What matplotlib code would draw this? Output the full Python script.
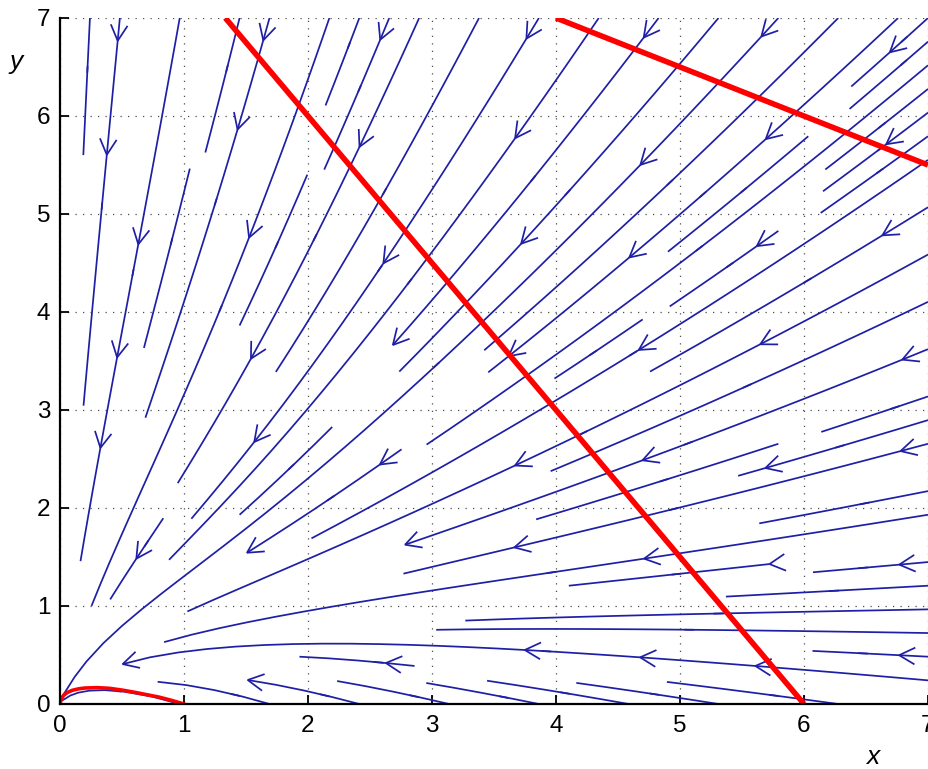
"""Phase portrait: streamlines of a planar field plus red reference curves."""

import numpy as np
import matplotlib

matplotlib.use("Agg")
import matplotlib.pyplot as plt  # noqa: E402

plt.rcParams["font.family"] = ["Liberation Sans", "DejaVu Sans"]

# red straight lines (end points)
line1_x = [4.0 / 3.0, 6.0]
line1_y = [7.0, 0.0]
line2_x = [4.0, 7.0]
line2_y = [7.0, 5.5]

# small red arch near the origin
curve_x = [0.0, 0.01, 0.03, 0.06, 0.10, 0.15, 0.20, 0.30, 0.40, 0.50, 0.60, 0.70, 0.80, 0.90, 1.0]
curve_y = [0.0, 0.05, 0.09, 0.118, 0.14, 0.155, 0.163, 0.167, 0.16, 0.142, 0.12, 0.095, 0.07, 0.037, 0.0]

ticks = [0, 1, 2, 3, 4, 5, 6, 7]

# where the direction chevrons sit (one per cell, like streamslice)
arrow_cols = [0.55, 1.55, 2.6, 3.7, 4.65, 5.7, 6.7]
arrow_rows = [0.42, 1.55, 2.55, 3.6, 4.65, 5.7, 6.75]

# field parameters
decay_axis = 0.9   # y decay rate next to the y axis
decay_far = 1.3    # y decay rate away from it
decay_width = 1.5
level = 0.85       # level the low trajectories settle on for large x
level_scale = 1.7

BLUE = "#1f1fa6"
RED = "#ff0000"


def field(x, y):
    q = decay_axis + (decay_far - decay_axis) * (1 - np.exp(-(x / decay_width) ** 2))
    ystar = level * (1 - np.exp(-x / level_scale))
    return -x, -q * (y - ystar)


fig = plt.figure(figsize=(9.29, 7.69), dpi=100)
ax = fig.add_axes([60 / 929, 1 - 704 / 769, 868 / 929, 686 / 769])
ax.set_xlim(0, 7)
ax.set_ylim(0, 7)

gx = np.linspace(0, 7, 201)
gy = np.linspace(0, 7, 201)
X, Y = np.meshgrid(gx, gy)
U, V = field(X, Y)
sp = ax.streamplot(gx, gy, U, V, density=1.0, color=BLUE, linewidth=1.25,
                   arrowstyle="-", maxlength=10, minlength=0.12, zorder=2)

# chevrons: put one on the streamline nearest each lattice point
pts = np.concatenate(sp.lines.get_segments())
T = ax.transData
pts_pix = T.transform(pts)
arm = 17.0
half = np.deg2rad(28)
for cx in arrow_cols:
    for cy in arrow_rows:
        c = T.transform((cx, cy))
        k = np.argmin(np.hypot(*(pts_pix - c).T))
        p = pts[k]
        u, v = field(p[0], p[1])
        n = np.hypot(u, v)
        if n == 0:
            continue
        p_pix = T.transform(p)
        q_pix = T.transform(p + 1e-3 * np.array([u, v]) / n)
        d = (q_pix - p_pix) / np.hypot(*(q_pix - p_pix))
        b = -d
        ends = []
        for s in (half, -half):
            r = np.array([[np.cos(s), -np.sin(s)], [np.sin(s), np.cos(s)]])
            ends.append(p_pix + arm * r @ b)
        chev = T.inverted().transform(np.array([ends[0], p_pix, ends[1]]))
        ax.plot(chev[:, 0], chev[:, 1], color=BLUE, lw=1.25, zorder=2,
                solid_joinstyle="miter")

ax.plot(line1_x, line1_y, color=RED, lw=4, zorder=3, solid_capstyle="butt")
ax.plot(line2_x, line2_y, color=RED, lw=4, zorder=3, solid_capstyle="butt")
ax.plot(curve_x, curve_y, color=RED, lw=2.6, zorder=3)

ax.set_xticks(ticks)
ax.set_yticks(ticks)
ax.tick_params(direction="in", length=6.5, width=1.3, labelsize=17.5)
ax.tick_params(axis="x", pad=8)
ax.tick_params(axis="y", pad=7)
ax.grid(True, linestyle=(0, (1, 5)), color="0.3", lw=0.9)
ax.spines["top"].set_visible(False)
ax.spines["right"].set_visible(False)
for s in ("left", "bottom"):
    ax.spines[s].set_linewidth(1.6)
    ax.spines[s].set_zorder(4)

fig.text(873 / 929, 1 - 764 / 769, "x", fontsize=19, style="italic", ha="center", va="baseline")
fig.text(16 / 929, 1 - 62 / 769, "y", fontsize=19, style="italic", ha="center", va="center")

fig.savefig("out.png", dpi=100)
